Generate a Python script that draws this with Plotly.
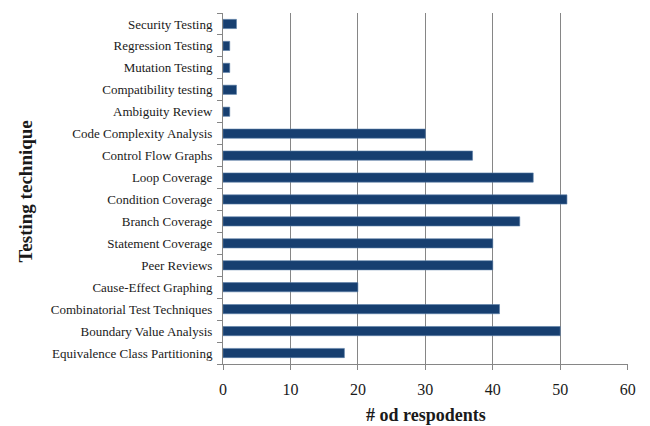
import plotly.graph_objects as go

# Testing techniques, listed bottom to top
techniques = [
    "Equivalence Class Partitioning",
    "Boundary Value Analysis",
    "Combinatorial Test Techniques",
    "Cause-Effect Graphing",
    "Peer Reviews",
    "Statement Coverage",
    "Branch Coverage",
    "Condition Coverage",
    "Loop Coverage",
    "Control Flow Graphs",
    "Code Complexity Analysis",
    "Ambiguity Review",
    "Compatibility testing",
    "Mutation Testing",
    "Regression Testing",
    "Security Testing",
]
respondents = [18, 50, 41, 20, 40, 40, 44, 51, 46, 37, 30, 1, 2, 1, 1, 2]
x_ticks = [0, 10, 20, 30, 40, 50, 60]

FONT = "Liberation Serif, Times New Roman, serif"
AXIS_GRAY = "#868686"
TEXT = "#1a1a1a"

fig = go.Figure(
    go.Bar(
        y=techniques,
        x=respondents,
        orientation="h",
        width=0.42,
        marker=dict(color="#173f70", line=dict(color="#5d7fa8", width=0.6)),
    )
)

fig.update_layout(
    width=650,
    height=426,
    margin=dict(l=223, r=22, t=13, b=62),
    paper_bgcolor="white",
    plot_bgcolor="white",
    showlegend=False,
    font=dict(family=FONT, color=TEXT),
    xaxis=dict(
        range=[0, 60.05],
        tickvals=x_ticks,
        ticktext=[str(v) for v in x_ticks],
        tickfont=dict(size=16, family=FONT, color=TEXT),
        showgrid=True,
        gridcolor=AXIS_GRAY,
        gridwidth=1,
        zeroline=False,
        showline=True,
        linecolor=AXIS_GRAY,
        linewidth=1,
        ticks="outside",
        ticklen=5,
        tickcolor=AXIS_GRAY,
        ticklabelstandoff=6,
        fixedrange=True,
    ),
    yaxis=dict(
        categoryorder="array",
        categoryarray=techniques,
        tickfont=dict(size=13, family=FONT, color=TEXT),
        showgrid=False,
        zeroline=False,
        showline=True,
        linecolor=AXIS_GRAY,
        linewidth=1,
        ticks="outside",
        tickson="boundaries",
        ticklen=5,
        tickcolor=AXIS_GRAY,
        ticklabelstandoff=7,
        fixedrange=True,
    ),
    annotations=[
        dict(
            text="<b># od respodents</b>",
            xref="paper", yref="paper",
            x=0.5, y=-0.146,
            xanchor="center", yanchor="middle",
            showarrow=False,
            font=dict(size=18, family=FONT, color=TEXT),
        ),
        dict(
            text="<b>Testing technique</b>",
            xref="paper", yref="paper",
            x=-0.49, y=0.49,
            xanchor="center", yanchor="middle",
            textangle=-90,
            showarrow=False,
            font=dict(size=19, family=FONT, color=TEXT),
        ),
    ],
)

fig.write_html("out.html")
